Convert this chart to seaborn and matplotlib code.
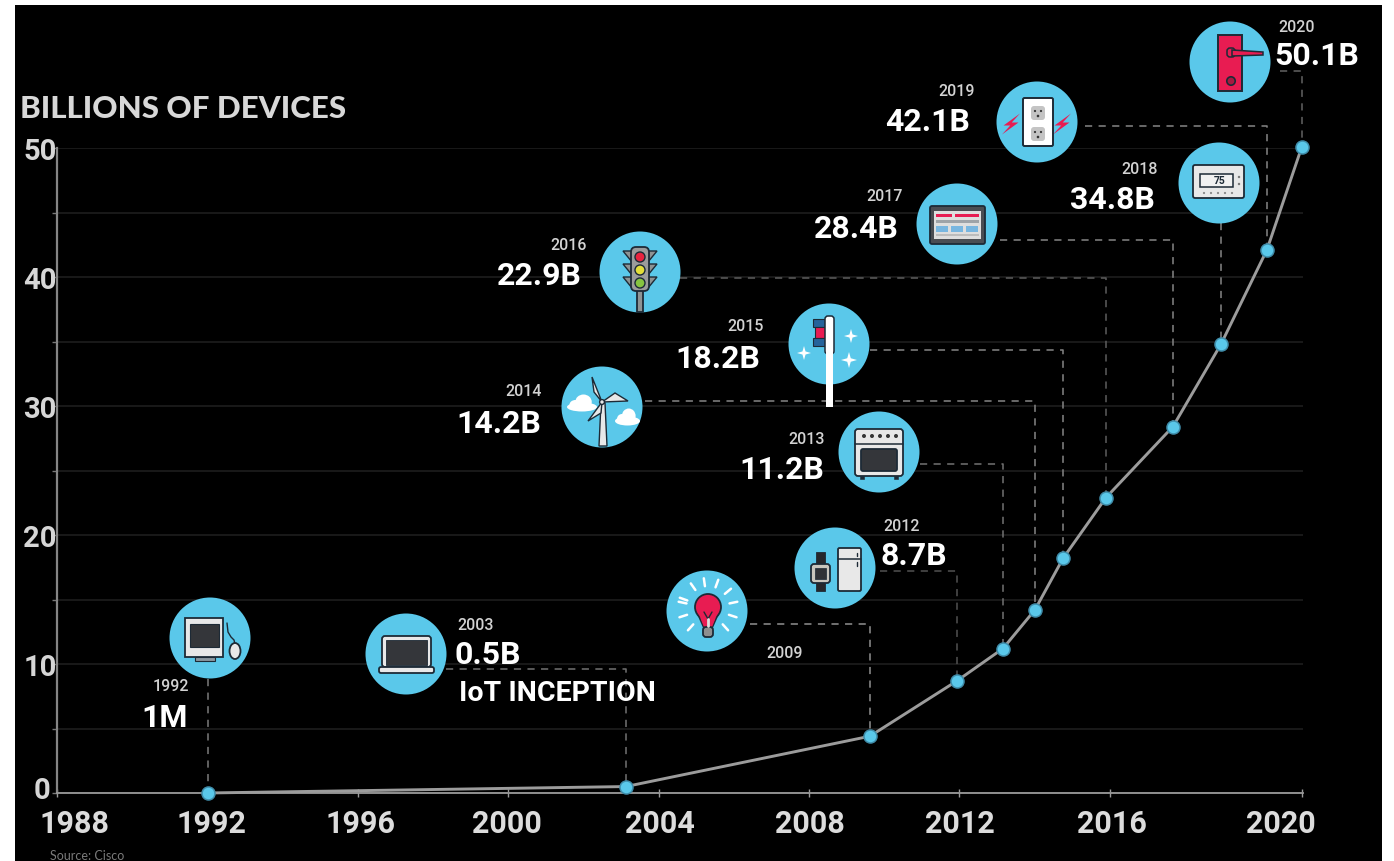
import numpy as np
import pandas as pd
import seaborn as sns
import matplotlib
matplotlib.use("Agg")
import matplotlib.pyplot as plt
from matplotlib.patches import Circle, Rectangle, Polygon, Ellipse, FancyBboxPatch
from matplotlib.transforms import Affine2D, ScaledTranslation

# Device counts in billions, positioned along the chart's own year axis
axis_years = [1992.02, 2003.13, 2009.62, 2011.94, 2013.16, 2014.01, 2014.76,
              2015.90, 2017.68, 2018.96, 2020.18, 2021.11]
devices_billions = [0.001, 0.5, 4.4, 8.7, 11.2, 14.2, 18.2, 22.9, 28.4, 34.8, 42.1, 50.1]

x_tick_positions = [1988, 1992, 1996, 2000, 2004, 2008, 2012, 2016, 2021.11]
x_tick_labels = ["1988", "1992", "1996", "2000", "2004", "2008", "2012", "2016", "2020"]
y_tick_positions = [0, 5, 10, 15, 20, 25, 30, 35, 40, 45, 50]
y_tick_labels = ["0", "", "10", "", "20", "", "30", "", "40", "", "50"]

W, H = 1394, 862
BLUE = "#5ac8ea"
RED = "#e81c52"
INK = "#1d2a36"
PALE = "#e8e8e8"

sns.set_theme(style="dark", rc={"axes.facecolor": "none", "figure.facecolor": "white"})
fig = plt.figure(figsize=(W / 100, H / 100), dpi=100)

# Everything decorative is laid out in image-style units with the origin at top left
pix = Affine2D().scale(1 / W, -1 / H).translate(0, 1) + fig.transFigure
fig.add_artist(Rectangle((15, 6), 1367, 856, transform=pix, fc="black", ec="none", zorder=-5))

ax = fig.add_axes([57 / W, 1 - 794 / H, (1303 - 57) / W, (794 - 149) / H])
ax.set_xlim(1988, 2021.14)
ax.set_ylim(0, 50)

frame = pd.DataFrame({"year": axis_years, "devices": devices_billions})
sns.lineplot(data=frame, x="year", y="devices", ax=ax, color="#9c9c9c", lw=2.1,
             sort=False, zorder=3, clip_on=False)
sns.scatterplot(data=frame, x="year", y="devices", ax=ax, color=BLUE, s=88, linewidth=1.1,
                edgecolor="#3f8ba8", zorder=4, clip_on=False)

ax.set_xlabel("")
ax.set_ylabel("")
ax.set_xticks(x_tick_positions, x_tick_labels)
ax.set_yticks(y_tick_positions, y_tick_labels)
ax.grid(True, axis="y", color="#202020", lw=1.1, zorder=0)
ax.grid(False, axis="x")
ax.set_axisbelow(True)
for side in ("top", "right"):
    ax.spines[side].set_visible(False)
ax.spines["left"].set_color("#858585")
ax.spines["left"].set_linewidth(1.6)
ax.spines["bottom"].set_color("#9a9a9a")
ax.spines["bottom"].set_linewidth(1.3)
ax.tick_params(axis="x", direction="inout", length=6, width=1, color="#9a9a9a", pad=8,
               labelsize=22, labelcolor="#dcdcdc", bottom=True)
ax.tick_params(axis="y", direction="out", length=3.6, width=1, color="#777777", pad=-3.5,
               labelsize=21, labelcolor="#d6d6d6", left=True)
x_label_shift = [17, 4, 3, -1, 1, 1, 1, 2, -21]
for lab, shift in zip(ax.get_xticklabels(), x_label_shift):
    lab.set_family("Roboto")
    lab.set_weight("bold")
    lab.set_transform(lab.get_transform() + ScaledTranslation(shift / 100, 0, fig.dpi_scale_trans))
for lab, value in zip(ax.get_yticklabels(), y_tick_positions):
    lab.set_family("Roboto")
    lab.set_weight("bold")
    if value == 0:
        lab.set_transform(lab.get_transform() + ScaledTranslation(-6 / 100, 6 / 100, fig.dpi_scale_trans))


def add(patch, z=6):
    patch.set_transform(pix)
    patch.set_clip_on(False)
    patch.set_zorder(z)
    ax.add_patch(patch)
    return patch


def rect(x0, y0, x1, y1, fc, ec=INK, lw=1.3, z=6):
    return add(Rectangle((x0, y0), x1 - x0, y1 - y0, fc=fc, ec=ec, lw=lw), z)


def round_rect(x0, y0, x1, y1, fc, ec=INK, lw=1.3, r=2, z=6):
    return add(FancyBboxPatch((x0, y0), x1 - x0, y1 - y0, boxstyle=f"round,pad=0,rounding_size={r}",
                              fc=fc, ec=ec, lw=lw), z)


def stroke(xs, ys, color=INK, lw=1.3, z=6, **kw):
    ax.plot(xs, ys, color=color, lw=lw, transform=pix, clip_on=False, zorder=z,
            scalex=False, scaley=False, **kw)


def disc(cx, cy):
    add(Circle((cx, cy), 40.5, fc=BLUE, ec="none"), 5)


def sparkle(x, y, r):
    pts = [(x, y - r), (x + r * .22, y - r * .22), (x + r, y), (x + r * .22, y + r * .22),
           (x, y + r), (x - r * .22, y + r * .22), (x - r, y), (x - r * .22, y - r * .22)]
    add(Polygon(pts, fc="white", ec="none"))


def bolt(x, y, k=1.5):
    pts = [(x + 6 * k, y - 7 * k), (x - 5 * k, y + 1 * k), (x - 0.5 * k, y + 1 * k),
           (x - 6 * k, y + 7 * k), (x + 5 * k, y - 1 * k), (x + 0.5 * k, y - 1 * k)]
    add(Polygon(pts, fc=RED, ec="none"))


def cloud(x0, x1, y):
    w = x1 - x0
    add(Ellipse((x0 + w * .5, y), w, 9, fc="white", ec="none"))
    add(Ellipse((x0 + w * .55, y - 5), w * .55, 15, fc="white", ec="none"))
    add(Ellipse((x0 + w * .28, y - 2), w * .4, 10, fc="white", ec="none"))


def icon_computer(cx, cy):
    disc(cx, cy)
    rect(cx - 25, cy - 20, cx + 13, cy + 19, PALE)
    rect(cx - 20, cy - 14, cx + 9, cy + 9, "#34363a", lw=.8)
    rect(cx - 15, cy + 19, cx + 5, cy + 23, "#8c98a0", lw=.8)
    stroke([cx + 17, cx + 18, cx + 21, cx + 24, cx + 25], [cy - 15, cy - 6, cy - 1, cy + 2, cy + 6], lw=1)
    add(Ellipse((cx + 25, cy + 13), 11, 16, fc=PALE, ec=INK, lw=1.3))


def icon_laptop(cx, cy):
    disc(cx, cy)
    round_rect(cx - 24, cy - 18, cx + 25, cy + 13, PALE, r=3)
    rect(cx - 20, cy - 14, cx + 21, cy + 11, "#34363a", lw=.6)
    round_rect(cx - 27, cy + 13, cx + 28, cy + 19, PALE, r=2)


def icon_bulb(cx, cy):
    disc(cx, cy)
    for deg in (-160, -125, -98, -70, -40, -12, 18, 48, 132, 162, 192):
        a = np.radians(deg)
        stroke([cx + 1 + 22 * np.cos(a), cx + 1 + 30 * np.cos(a)],
               [cy - 3 + 22 * np.sin(a), cy - 3 + 30 * np.sin(a)], color="white", lw=1.8)
    add(Polygon([(cx - 10, cy + 1), (cx + 12, cy + 1), (cx + 5, cy + 17), (cx - 3, cy + 17)],
                fc=RED, ec=INK, lw=1.2))
    add(Circle((cx + 1, cy - 4), 13, fc=RED, ec="none"), 6)
    add(Circle((cx + 1, cy - 4), 13, fc="none", ec=INK, lw=1.3), 6)
    add(Polygon([(cx - 9, cy + 1), (cx + 11, cy + 1), (cx + 5, cy + 16), (cx - 3, cy + 16)],
                fc=RED, ec="none"), 6)
    stroke([cx - 3, cx + 1, cx + 5], [cy + 1, cy + 8, cy + 1], lw=1, z=7)
    stroke([cx + 1, cx + 1], [cy + 8, cy + 15], color="#dddddd", lw=2, z=7)
    round_rect(cx - 4, cy + 16, cx + 6, cy + 26, "#8e8e8e", r=3)


def icon_watch_fridge(cx, cy):
    disc(cx, cy)
    rect(cx - 19, cy - 16, cx - 10, cy + 23, "#26272b", lw=.6)
    round_rect(cx - 24, cy - 4, cx - 5, cy + 15, "#c9c6bd", r=3)
    rect(cx - 20, cy + 0, cx - 9, cy + 11, "#303236", lw=.5)
    round_rect(cx + 3, cy - 20, cx + 26, cy + 23, PALE, r=1.5)
    stroke([cx + 3, cx + 26], [cy - 9, cy - 9], lw=1.1)
    stroke([cx + 22, cx + 22], [cy - 15, cy - 12], lw=1)
    stroke([cx + 22, cx + 22], [cy - 6, cy - 2], lw=1)


def icon_oven(cx, cy):
    disc(cx, cy)
    round_rect(cx - 24, cy - 23, cx + 24, cy + 24, PALE, r=3)
    stroke([cx - 24, cx + 24], [cy - 8, cy - 8], lw=1.1)
    for dx in (-15, -7, 1, 9, 17):
        add(Circle((cx + dx, cy - 16), 2, fc="#353535", ec="none"))
    round_rect(cx - 18, cy - 3, cx + 18, cy + 19, "#34363a", r=2)
    for dx in (-17, 17):
        rect(cx + dx - 2, cy + 24, cx + dx + 2, cy + 27, INK, lw=.4)


def icon_turbine(cx, cy):
    disc(cx, cy)
    cloud(cx - 35, cx - 5, cy + 0)
    cloud(cx + 13, cx + 38, cy + 14)
    add(Polygon([(cx - 1, cy - 4), (cx + 3, cy - 4), (cx + 5, cy + 39), (cx - 3, cy + 39)],
                fc=PALE, ec=INK, lw=1))
    hub = (cx, cy - 5)
    for tip, side in (((cx - 10, cy - 30), (cx - 8, cy - 15)),
                      ((cx + 26, cy - 6), (cx + 13, cy - 14)),
                      ((cx - 14, cy + 14), (cx - 1, cy + 6))):
        add(Polygon([hub, side, tip], fc=PALE, ec=INK, lw=1))
    add(Circle(hub, 2.4, fc=PALE, ec=INK, lw=1))


def icon_toothbrush(cx, cy):
    disc(cx, cy)
    rect(cx - 16, cy - 25, cx - 4, cy - 17, "#25639b", lw=.8)
    rect(cx - 14, cy - 17, cx - 4, cy - 6, RED, lw=.8)
    rect(cx - 16, cy - 6, cx - 4, cy + 2, "#25639b", lw=.8)
    round_rect(cx - 4, cy - 28, cx + 5, cy + 10, "white", lw=1.1, r=3)
    rect(cx - 3, cy + 8, cx + 4, cy + 63, "white", ec="none", lw=0)
    sparkle(cx + 22, cy - 8, 7)
    sparkle(cx - 25, cy + 9, 7)
    sparkle(cx + 20, cy + 16, 8)


def icon_traffic(cx, cy):
    disc(cx, cy)
    rect(cx - 3, cy + 18, cx + 3, cy + 40, "#8e9393")
    for dy in (-15, -2, 11):
        for sign in (-1, 1):
            add(Polygon([(cx + sign * 8, cy + dy - 6), (cx + sign * 17, cy + dy - 6),
                         (cx + sign * 8, cy + dy + 5)], fc="#8e9393", ec=INK, lw=1))
    round_rect(cx - 9, cy - 25, cx + 9, cy + 19, "#9b9b9b", r=5)
    for dy, col in ((-15, "#e8233f"), (-2, "#e3de3a"), (11, "#86c440")):
        add(Circle((cx, cy + dy), 5, fc=col, ec=INK, lw=1))


def icon_tablet(cx, cy):
    disc(cx, cy)
    round_rect(cx - 27, cy - 18, cx + 28, cy + 20, "#4a4d52", r=2)
    rect(cx - 23, cy - 13, cx + 24, cy + 15, "#dedede", ec="none", lw=0)
    rect(cx - 21, cy - 10, cx - 5, cy - 7, RED, ec="none", lw=0)
    rect(cx - 2, cy - 10, cx + 22, cy - 7, RED, ec="none", lw=0)
    rect(cx - 21, cy - 4, cx + 22, cy - 1, "#9ea3a8", ec="none", lw=0)
    for dx in (-21, -6, 9):
        rect(cx + dx, cy + 2, cx + dx + 12, cy + 8, "#78b6e0", ec="none", lw=0)
    rect(cx - 21, cy + 10, cx + 22, cy + 12, "#bcbcbc", ec="none", lw=0)


def icon_thermostat(cx, cy):
    disc(cx, cy)
    round_rect(cx - 26, cy - 18, cx + 25, cy + 15, PALE, r=2)
    rect(cx - 19, cy - 9, cx + 14, cy + 4, "#f1f1f1", lw=1.1)
    ax.text(cx + 1, cy - 2.5, "75", transform=pix, fontsize=7.5, fontweight="bold", color=INK,
            ha="center", va="center", family="Roboto", zorder=7, clip_on=False)
    for dy in (-6, 1):
        add(Circle((cx + 20, cy + dy), 1.2, fc="#777777", ec="none"))
    for dx in (-15, -8, -1, 6, 13):
        add(Circle((cx + dx, cy + 10), 1.1, fc="#888888", ec="none"))


def icon_outlet(cx, cy):
    disc(cx, cy)
    bolt(cx - 26, cy + 2)
    bolt(cx + 25, cy + 2)
    round_rect(cx - 14, cy - 24, cx + 16, cy + 24, "white", r=1.5, lw=1.4)
    for dy in (-9, 12):
        round_rect(cx - 6, cy + dy - 7, cx + 8, cy + dy + 7, "#c4c4c4", ec="none", lw=0, r=3)
        for dx in (-2, 4):
            add(Circle((cx + dx, cy + dy - 2), 1.1, fc="#333333", ec="none"), 7)
        add(Circle((cx + 1, cy + dy + 3), 1.3, fc="#333333", ec="none"), 7)


def icon_door(cx, cy):
    disc(cx, cy)
    rect(cx - 12, cy - 27, cx + 12, cy + 29, RED, lw=1.4)
    round_rect(cx - 3, cy - 14, cx + 5, cy - 5, RED, r=3, lw=1.1)
    add(Polygon([(cx + 2, cy - 12), (cx + 33, cy - 10), (cx + 33, cy - 7), (cx + 2, cy - 6)],
                fc=RED, ec=INK, lw=1.1))
    add(Circle((cx + 1, cy + 19), 4.2, fc="#a81840", ec=INK, lw=1.2))


# One entry per labelled point: icon, disc centre, year label, value label
callouts = [
    (icon_computer, 210, 639, ("1992", 189, 687, "right"), ("1M", 188, 718, "right")),
    (icon_laptop, 406, 655, ("2003", 457, 626, "left"), ("0.5B", 455, 655, "left")),
    (icon_bulb, 707, 612, ("2009", 766, 654, "left"), None),
    (icon_watch_fridge, 835, 569, ("2012", 883, 527, "left"), ("8.7B", 880, 556, "left")),
    (icon_oven, 879, 453, ("2013", 825, 440, "right"), ("11.2B", 824, 470, "right")),
    (icon_turbine, 602, 408, ("2014", 542, 392, "right"), ("14.2B", 541, 424, "right")),
    (icon_toothbrush, 829, 345, ("2015", 764, 327, "right"), ("18.2B", 760, 359, "right")),
    (icon_traffic, 640, 273, ("2016", 587, 246, "right"), ("22.9B", 582, 276, "right")),
    (icon_tablet, 957, 225, ("2017", 903, 197, "right"), ("28.4B", 899, 229, "right")),
    (icon_thermostat, 1219, 184, ("2018", 1158, 170, "right"), ("34.8B", 1155, 200, "right")),
    (icon_outlet, 1037, 123, ("2019", 975, 91, "right"), ("42.1B", 970, 122, "right")),
    (icon_door, 1230, 63, ("2020", 1278, 28, "left"), ("50.1B", 1274, 56, "left")),
]

for draw, cx, cy, year_text, value_text in callouts:
    draw(cx, cy)
    s, x, y, ha = year_text
    ax.text(x, y, s, transform=pix, family="Roboto", fontweight="medium", fontsize=11.5,
            color="#d2d2d2", ha=ha, va="center", zorder=8, clip_on=False)
    if value_text:
        s, x, y, ha = value_text
        ax.text(x, y, s, transform=pix, family="Roboto", fontweight="bold", fontsize=23,
                color="white", ha=ha, va="center", zorder=8, clip_on=False)

# Dashed leaders run sideways from a disc, then down to the point on the curve
to_pix = ax.transData + pix.inverted()
leader_starts = [(209, 680, "#777777"), (446, 670, "#6e6e6e"), (750, 625, "#8a8a8a"),
                 (880, 572, "#4e4e4e"), (920, 465, "#6e6e6e"), (645, 402, "#808080"),
                 (870, 351, "#808080"), (680, 279, "#5a5a5a"), (1000, 241, "#808080"),
                 (1220, 224, "#808080"), (1085, 127, "#808080"), (1280, 72, "#5f5f5f")]
for x_val, y_val, (sx, sy, col) in zip(axis_years, devices_billions, leader_starts):
    px, py = to_pix.transform((x_val, y_val))
    xs = [sx, px, px] if abs(sx - px) > 3 else [px, px]
    ys = [sy, sy, py] if abs(sx - px) > 3 else [sy, py]
    stroke(xs, ys, color=col, lw=1.15, z=2, dashes=(4.5, 4))

ax.text(20, 109, "BILLIONS OF DEVICES", transform=pix, family="Lato", fontweight=900,
        fontsize=22.5, color="#d8d8d8", ha="left", va="center", clip_on=False, zorder=8)
ax.text(459, 694, "IoT INCEPTION", transform=pix, family="Roboto", fontweight="bold",
        fontsize=20.5, color="white", ha="left", va="center", clip_on=False, zorder=8)
ax.text(50, 856, "Source: Cisco", transform=pix, family="Lato", fontsize=9,
        color="#7a7a7a", ha="left", va="center", clip_on=False, zorder=8)

fig.savefig("out.png", dpi=100, facecolor="white")
